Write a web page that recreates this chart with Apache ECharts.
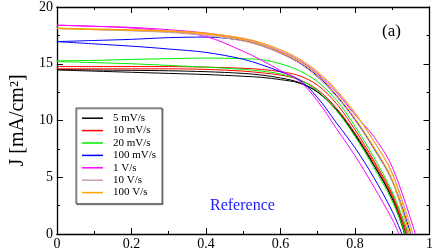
<!DOCTYPE html>
<html>
<head>
<meta charset="utf-8">
<script src="https://cdn.jsdelivr.net/npm/echarts@6/dist/echarts.min.js"></script>
<style>html,body{margin:0;padding:0;background:#fff}#c{width:436px;height:251px}</style>
</head>
<body>
<div id="c"></div>
<script>
// Voltage grid (V) shared by all curves; each curve ends at its own Voc (J = 0)
var voltage = [0, 0.1, 0.2, 0.3, 0.4, 0.5, 0.55, 0.6, 0.65, 0.7, 0.75, 0.8, 0.85, 0.9];
var legendNames = ['5 mV/s', '10 mV/s', '20 mV/s', '100 mV/s', '1 V/s', '10 V/s', '100 V/s'];
var colors = ['#000000', '#ff0000', '#00ee00', '#0000ff', '#ff00ff', '#c8a2a2', '#ffa500'];

// Current density J (mA/cm^2), two scans per scan rate
var black1 = [14.45, 14.35, 14.25, 14.15, 14.05, 13.9, 13.8, 13.6, 13.3, 12.5, 11.0, 8.8, 6.1, 3.1];
var black2 = [14.5, 14.45, 14.42, 14.38, 14.3, 14.15, 14.0, 13.75, 13.35, 12.5, 10.9, 8.7, 6.1, 3.2];
var red1 = [14.75, 14.75, 14.75, 14.75, 14.7, 14.6, 14.5, 14.3, 13.95, 13.1, 11.5, 9.2, 6.5, 3.5];
var red2 = [14.55, 14.55, 14.55, 14.55, 14.5, 14.35, 14.2, 14.0, 13.6, 12.7, 11.1, 8.9, 6.3, 3.3];
var green1 = [15.25, 15.3, 15.38, 15.45, 15.5, 15.45, 15.35, 15.0, 14.4, 13.4, 11.8, 9.5, 6.8, 3.7];
var green2 = [15.2, 15.1, 15.0, 14.85, 14.7, 14.5, 14.35, 14.1, 13.6, 12.6, 10.9, 8.6, 5.9, 2.9];
var blue1 = [16.95, 16.75, 16.55, 16.3, 16.0, 15.4, 14.9, 14.3, 13.6, 12.0, 9.8, 7.6, 5.0, 2.0];
var blue2 = [16.95, 17.05, 17.15, 17.3, 17.35, 17.05, 16.6, 15.95, 15.1, 13.9, 12.2, 10.1, 7.6, 4.7];
var magenta1 = [18.4, 18.3, 18.15, 17.85, 17.4, 16.1, 15.3, 14.4, 13.5, 11.7, 9.3, 6.9, 4.2, 1.3];
var magenta2 = [18.4, 18.3, 18.2, 18.0, 17.7, 17.2, 16.75, 16.1, 15.3, 14.1, 12.5, 10.5, 8.6, 5.9];
var brown1 = [18.1, 18.0, 17.9, 17.75, 17.5, 17.0, 16.55, 15.9, 15.05, 13.8, 12.1, 10.0, 7.5, 4.6];
var brown2 = [18.1, 18.0, 17.92, 17.8, 17.6, 17.15, 16.75, 16.15, 15.35, 14.2, 12.6, 10.6, 8.2, 5.4];
var orange1 = [18.15, 18.07, 18.0, 17.9, 17.7, 17.25, 16.85, 16.25, 15.45, 14.3, 12.7, 10.7, 8.2, 5.3];
var orange2 = [18.1, 18.02, 17.95, 17.85, 17.62, 17.1, 16.65, 16.0, 15.2, 14.0, 12.3, 10.2, 7.7, 4.8];

// open-circuit voltages (end of each curve)
var vocs = [0.933, 0.937, 0.941, 0.938, 0.944, 0.935, 0.926, 0.95, 0.918, 0.962, 0.945, 0.956, 0.952, 0.946];

var curves = [black1, black2, red1, red2, green1, green2, blue1, blue2, magenta1, magenta2, brown1, brown2, orange1, orange2];

var xTicks = [0, 0.2, 0.4, 0.6, 0.8, 1];
var yTicks = [0, 5, 10, 15, 20];

var series = curves.map(function (arr, i) {
  var g = Math.floor(i / 2);
  var data = arr.map(function (j, k) { return [voltage[k], j]; });
  data.push([vocs[i], 0]);
  return {
    name: legendNames[g],
    type: 'line',
    data: data,
    smooth: 0.35,
    symbol: 'none',
    clip: true,
    lineStyle: { color: colors[g], width: 1 },
    itemStyle: { color: colors[g] },
    z: 2
  };
});

var serif = '"Liberation Serif","DejaVu Serif",serif';

var chart = echarts.init(document.getElementById('c'), null, { renderer: 'canvas' });
chart.setOption({
  animation: false,
  backgroundColor: '#ffffff',
  grid: { left: 52, right: 5, top: 6, bottom: 17, containLabel: false },
  title: {
    text: 'Reference', left: 205, top: 193,
    textStyle: { color: '#1a1aff', fontFamily: serif, fontSize: 16, fontWeight: 'normal' }
  },
  graphic: [{
    type: 'text', left: 382, top: 23,
    style: { text: '(a)', font: '17px ' + serif, fill: '#000' }
  }],
  legend: {
    orient: 'vertical', left: 76, top: 108,
    data: legendNames,
    icon: 'rect', itemWidth: 21, itemHeight: 1.5, itemGap: 0,
    padding: [4, 6, 5, 6],
    borderColor: '#444', borderWidth: 1, backgroundColor: '#fff',
    shadowColor: 'rgba(0,0,0,0.35)', shadowOffsetX: 1, shadowOffsetY: 1,
    textStyle: { fontFamily: serif, fontSize: 11, color: '#000', lineHeight: 12.4, padding: [0, 0, 0, 5] },
    selectedMode: false
  },
  xAxis: [{
    type: 'value', min: 0, max: 1, interval: 0.2, position: 'bottom',
    axisLine: { onZero: false, lineStyle: { color: '#000', width: 1.3 } },
    axisTick: { inside: true, length: 6, lineStyle: { color: '#000' } },
    minorTick: { show: true, splitNumber: 2, length: 3, lineStyle: { color: '#000' } },
    splitLine: { show: false },
    axisLabel: {
      fontFamily: serif, fontSize: 14, color: '#000', margin: 3,
      formatter: function (v) { return xTicks.indexOf(+v.toFixed(1)) >= 0 ? String(+v.toFixed(1)) : ''; }
    }
  }, {
    type: 'value', min: 0, max: 1, interval: 0.2, position: 'top',
    axisLine: { onZero: false, lineStyle: { color: '#000', width: 1.3 } },
    axisTick: { inside: true, length: 6, lineStyle: { color: '#000' } },
    minorTick: { show: true, splitNumber: 2, length: 3, lineStyle: { color: '#000' } },
    splitLine: { show: false }, axisLabel: { show: false }
  }],
  yAxis: [{
    type: 'value', min: 0, max: 20, interval: 5, position: 'left',
    name: 'J [mA/cm²]', nameLocation: 'middle', nameGap: 28,
    nameTextStyle: { fontFamily: serif, fontSize: 20, color: '#000' },
    axisLine: { onZero: false, lineStyle: { color: '#000', width: 1.3 } },
    axisTick: { inside: true, length: 6, lineStyle: { color: '#000' } },
    minorTick: { show: true, splitNumber: 2, length: 3, lineStyle: { color: '#000' } },
    splitLine: { show: false },
    axisLabel: { fontFamily: serif, fontSize: 14, color: '#000', margin: 4 }
  }, {
    type: 'value', min: 0, max: 20, interval: 5, position: 'right',
    axisLine: { onZero: false, lineStyle: { color: '#000', width: 1.3 } },
    axisTick: { inside: true, length: 6, lineStyle: { color: '#000' } },
    minorTick: { show: true, splitNumber: 2, length: 3, lineStyle: { color: '#000' } },
    splitLine: { show: false }, axisLabel: { show: false }
  }],
  series: series
});
</script>
</body>
</html>
